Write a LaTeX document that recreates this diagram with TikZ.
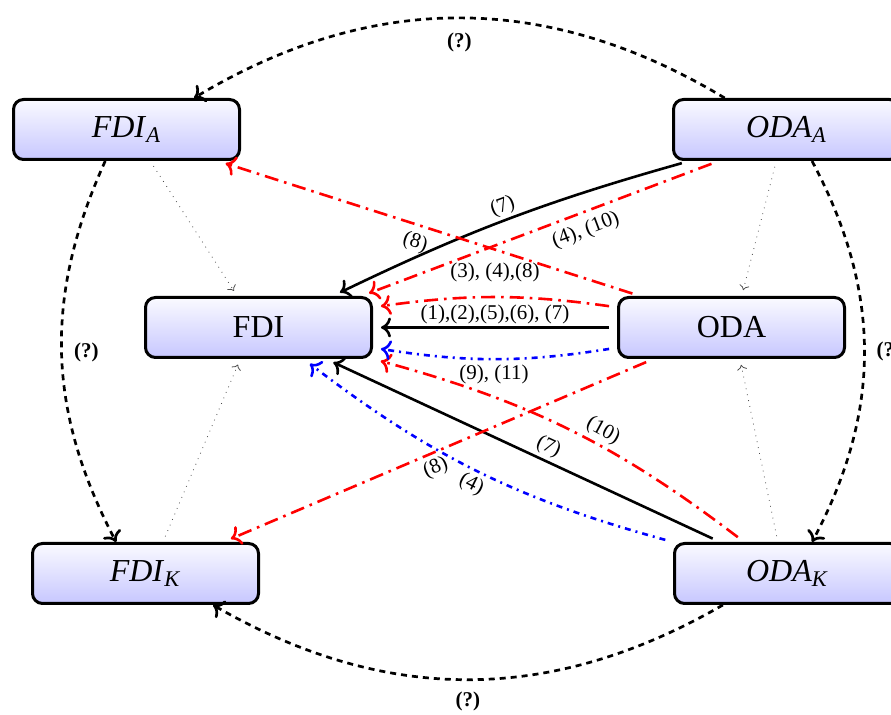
\documentclass[tikz,border=0pt]{standalone}
\usepackage{fontspec}
\setmainfont{Liberation Serif}
\usetikzlibrary{arrows.meta}

\begin{document}
\begin{tikzpicture}[x=0.5pt, y=0.5pt, >={To[length=5pt, width=10pt]},
   agent/.style={draw, line width=1.5pt, rounded corners=5pt, top color=blue!2, bottom color=blue!22,
     minimum width=113pt, minimum height=30pt, font=\fontsize{16}{19}\selectfont},
   lab/.style={font=\fontsize{10.5}{12}\selectfont, inner sep=1pt, text=black},
   qlab/.style={font=\fontsize{10.5}{12}\selectfont\bfseries, inner sep=1pt, text=black},
   guess/.style={->, dash pattern=on 3pt off 2.5pt, line width=1.35pt},
   hint/.style={-{To[length=2.5pt, width=5pt]}, line width=0.4pt, black!70, dash pattern=on 0.4pt off 2.6pt,
     shorten <=3pt, shorten >=3pt},
   flow/.style={->, line width=1.3pt, shorten <=4pt, shorten >=4pt},
   solid link/.style={flow},
   red link/.style={flow, red, dash pattern=on 7pt off 3pt on 1.3pt off 3pt},
   blue link/.style={flow, blue, dash pattern=on 3pt off 2.5pt on 1pt off 2.5pt}
   ]
   \useasboundingbox (0,0) rectangle (891,715);

   \path (126.5,585.5) node[agent] (FDIA) {\textit{FDI}\textsubscript{\textit{A}}}
   (786.5,585.5) node[agent] (ODAA) {\textit{ODA}\textsubscript{\textit{A}}};
   \path (258.5,387.5) node[agent] (FDI) {FDI}
   (731.5,387.5) node[agent] (ODA) {ODA};
   \path (145.5,141.5) node[agent] (FDIK) {\textit{FDI}\textsubscript{\textit{K}}}
   (787.5,141.5) node[agent] (ODAK) {\textit{ODA}\textsubscript{\textit{K}}};

   % outer ring
   \draw[guess] (ODAA.153) to[bend right=31] node[qlab, below=6pt] {(?)} (FDIA.25);
   \draw[guess] (FDIA.236) to[bend right=26] node[qlab, right=4.5pt] {(?)} (FDIK.133);
   \draw[guess] (ODAA.-51) to[bend left=28] node[qlab, right=4.5pt] {(?)} (ODAK.52);
   \draw[guess] (ODAK.206) to[bend left=30] node[qlab, below=4.5pt] {(?)} (FDIK.-25);

   \draw[hint] (FDIA.-53) -- (FDI.124);
   \draw[hint] (FDIK.61) -- (FDI.240);
   \draw[hint] (ODAA.252) -- (ODA.72);
   \draw[hint] (ODAK.107) -- (ODA.-75);

   \draw[solid link] (ODA.west) -- node[lab, above] {(1),(2),(5),(6), (7)} (FDI.east);
   \draw[solid link] (ODAA.198) to[bend right=5] node[lab, above=0.5pt, sloped] {(7)} (FDI.23);
   \draw[solid link] (ODAK.155) -- node[lab, above=0.5pt, sloped, pos=0.45] {(7)} (FDI.-25);

   \draw[red link] (ODA.161) -- node[lab, below=2.5pt, sloped, pos=0.52] {(8)} (FDIA.-19);
   \draw[red link] (ODA.202) -- node[lab, below=1pt, sloped, pos=0.52] {(8)} (FDIK.22);
   \draw[red link] (ODAA.205) -- node[lab, below=2.5pt, sloped, pos=0.39] {(4), (10)} (FDI.17);
   \draw[red link] (ODA.170) to[bend right=8] node[lab, above=6pt] {(3), (4),(8)} (FDI.10);
   \draw[red link] (ODAK.144) to[bend right=11] node[lab, above=1pt, sloped, pos=0.42] {(10)}
     node[lab, above=5pt, pos=0.71] {(9), (11)} (FDI.south east);

   \draw[blue link] (ODA.190) to[bend left=9] (FDI.-10);
   \draw[blue link] (ODAK.north west) to[bend left=11] node[lab, below=1pt, sloped] {(4)} (FDI.-35);
\end{tikzpicture}
\end{document}
